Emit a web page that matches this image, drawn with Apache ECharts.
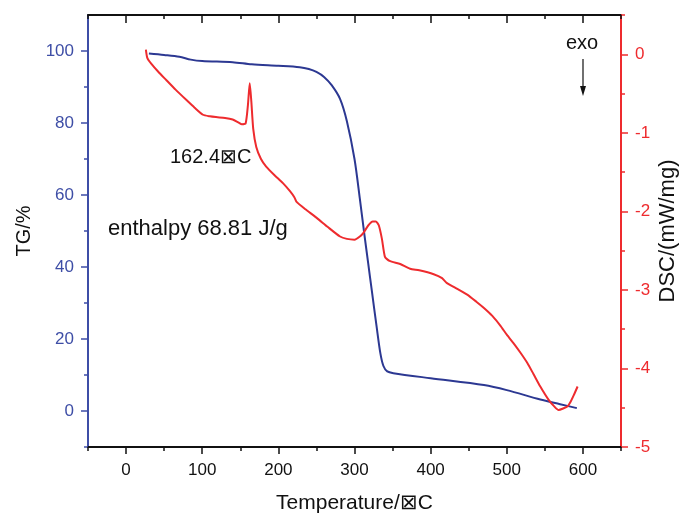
<!DOCTYPE html>
<html><head><meta charset="utf-8">
<script src="https://cdn.jsdelivr.net/npm/echarts@6/dist/echarts.min.js"></script>
<style>html,body{margin:0;padding:0;background:#fff}#c{width:681px;height:517px}</style>
</head><body><div id="c"></div>
<script>
// TG curve (Temperature °C, TG %)
const tgTemp = [30,50,70,85,100,140,165,200,228,240,250,260,270,281,290,300,307,313,318,323,329,334,338,343,351,400,470,500,544,570,592];
const tgVal  = [99.3,98.9,98.4,97.6,97.2,96.9,96.3,95.9,95.5,95.0,94.2,92.8,90.5,86.7,80.5,70,59,49,41,33,23.5,16,12.5,11.0,10.5,9.1,7.2,5.8,3.2,1.9,0.8];
// DSC curve (Temperature °C, mW/mg)
const dscTemp = [26,28,33,42,53,65,79,90,101,110,118,130,140,148,152,157,160,162.4,164.5,167,171,177,184,195,206,215,221,224,235,250,265,281,290,300,307,312,318,324,328,332,336,340,346,360,373,385,404,415,421,432,448,460,470,481,492,500,509,518,527,535,544,555,562,568,574,580,584,588,593];
const dscVal  = [0.06,-0.05,-0.12,-0.22,-0.33,-0.45,-0.58,-0.68,-0.77,-0.79,-0.80,-0.81,-0.83,-0.87,-0.89,-0.88,-0.65,-0.37,-0.6,-0.95,-1.18,-1.33,-1.43,-1.54,-1.64,-1.74,-1.82,-1.88,-1.97,-2.08,-2.20,-2.32,-2.35,-2.36,-2.32,-2.27,-2.18,-2.13,-2.13,-2.18,-2.35,-2.58,-2.63,-2.67,-2.73,-2.75,-2.80,-2.85,-2.91,-2.97,-3.06,-3.15,-3.23,-3.33,-3.46,-3.57,-3.68,-3.80,-3.93,-4.07,-4.23,-4.40,-4.48,-4.53,-4.51,-4.48,-4.42,-4.34,-4.23];
// ticks
const xMajor = [0,100,200,300,400,500,600];
const xMinor = [-50,50,150,250,350,450,550,650];
const tgMajor = [0,20,40,60,80,100];
const tgMinor = [-10,10,30,50,70,90];
const dscMajor = [-5,-4,-3,-2,-1,0];
const dscMinor = [-4.5,-3.5,-2.5,-1.5,-0.5,0.5];

const FONT = 'Liberation Sans, Arial, sans-serif';
const BLUE_AX = '#3e4ea6', BLUE_LN = '#2c3892', RED = '#ee2b2e', BLK = '#111';

const zip = (a,b)=>a.map((v,i)=>[v,b[i]]);
const chart = echarts.init(document.getElementById('c'), null, {renderer:'canvas'});
const baseX = {type:'value', min:-50, max:650, splitLine:{show:false}};
const baseTG = {type:'value', min:-10, max:110, splitLine:{show:false}};
const baseDSC = {type:'value', min:-5, max:0.5, splitLine:{show:false}};
chart.setOption({
  animation:false,
  grid:{left:88,right:60,top:15,bottom:70,containLabel:false,outerBoundsMode:'none'},
  xAxis:[
    Object.assign({}, baseX, {position:'bottom',
      axisLine:{show:true,onZero:false,lineStyle:{color:BLK,width:2}},
      axisTick:{show:true,customValues:xMajor,length:7,lineStyle:{color:BLK,width:1.5}},
      axisLabel:{show:true,customValues:xMajor,fontSize:17,color:BLK,fontFamily:FONT,margin:15},
      name:'Temperature/\u22A0C',nameLocation:'middle',nameGap:46,nameMoveOverlap:false,
      nameTextStyle:{fontSize:21,color:BLK,fontFamily:FONT}}),
    Object.assign({}, baseX, {position:'bottom',
      axisLine:{show:false,onZero:false},
      axisTick:{show:true,customValues:xMinor,length:4,lineStyle:{color:BLK,width:1.5}},
      axisLabel:{show:false}}),
    Object.assign({}, baseX, {position:'top',
      axisLine:{show:true,onZero:false,lineStyle:{color:BLK,width:2}},
      axisTick:{show:true,inside:true,customValues:xMajor,length:8,lineStyle:{color:BLK,width:1.5}},
      axisLabel:{show:false}}),
    Object.assign({}, baseX, {position:'top',
      axisLine:{show:false,onZero:false},
      axisTick:{show:true,inside:true,customValues:xMinor,length:4,lineStyle:{color:BLK,width:1.5}},
      axisLabel:{show:false}})
  ],
  yAxis:[
    Object.assign({}, baseTG, {position:'left',
      axisLine:{show:true,onZero:false,lineStyle:{color:BLUE_AX,width:2}},
      axisTick:{show:true,customValues:tgMajor,length:7,lineStyle:{color:BLUE_AX,width:1.5}},
      axisLabel:{show:true,customValues:tgMajor,fontSize:17,color:BLUE_AX,fontFamily:FONT,margin:14},
      name:'TG/%',nameLocation:'middle',nameGap:54,nameRotate:90,nameMoveOverlap:false,
      nameTextStyle:{fontSize:20,color:BLK,fontFamily:FONT}}),
    Object.assign({}, baseTG, {position:'left',
      axisLine:{show:false,onZero:false},
      axisTick:{show:true,customValues:tgMinor,length:4,lineStyle:{color:BLUE_AX,width:1.5}},
      axisLabel:{show:false}}),
    Object.assign({}, baseDSC, {position:'right',
      axisLine:{show:true,onZero:false,lineStyle:{color:RED,width:2}},
      axisTick:{show:true,customValues:dscMajor,length:7,lineStyle:{color:RED,width:1.5}},
      axisLabel:{show:true,customValues:dscMajor,fontSize:17,color:RED,fontFamily:FONT,margin:14},
      name:'DSC/(mW/mg)',nameLocation:'middle',nameGap:36,nameRotate:90,nameMoveOverlap:false,
      nameTextStyle:{fontSize:22,color:BLK,fontFamily:FONT,verticalAlign:'top'}}),
    Object.assign({}, baseDSC, {position:'right',
      axisLine:{show:false,onZero:false},
      axisTick:{show:true,customValues:dscMinor,length:4,lineStyle:{color:RED,width:1.5}},
      axisLabel:{show:false}})
  ],
  series:[
    {type:'line',xAxisIndex:0,yAxisIndex:0,data:zip(tgTemp,tgVal),showSymbol:false,smooth:0.3,
     lineStyle:{color:BLUE_LN,width:2},z:2},
    {type:'line',xAxisIndex:0,yAxisIndex:2,data:zip(dscTemp,dscVal),showSymbol:false,smooth:0.2,
     lineStyle:{color:RED,width:2},z:3}
  ],
  graphic:[
    {type:'text',left:170,top:147,style:{text:'162.4\u22A0C',fontSize:20,fill:BLK,fontFamily:FONT}},
    {type:'text',left:108,top:218,style:{text:'enthalpy 68.81 J/g',fontSize:22,fill:BLK,fontFamily:FONT}},
    {type:'text',left:566,top:33,style:{text:'exo',fontSize:20,fill:BLK,fontFamily:FONT}},
    {type:'line',shape:{x1:583,y1:59,x2:583,y2:88},style:{stroke:BLK,lineWidth:1.2}},
    {type:'polygon',shape:{points:[[580,86],[586,86],[583,96]]},style:{fill:BLK}}
  ]
});
</script></body></html>
